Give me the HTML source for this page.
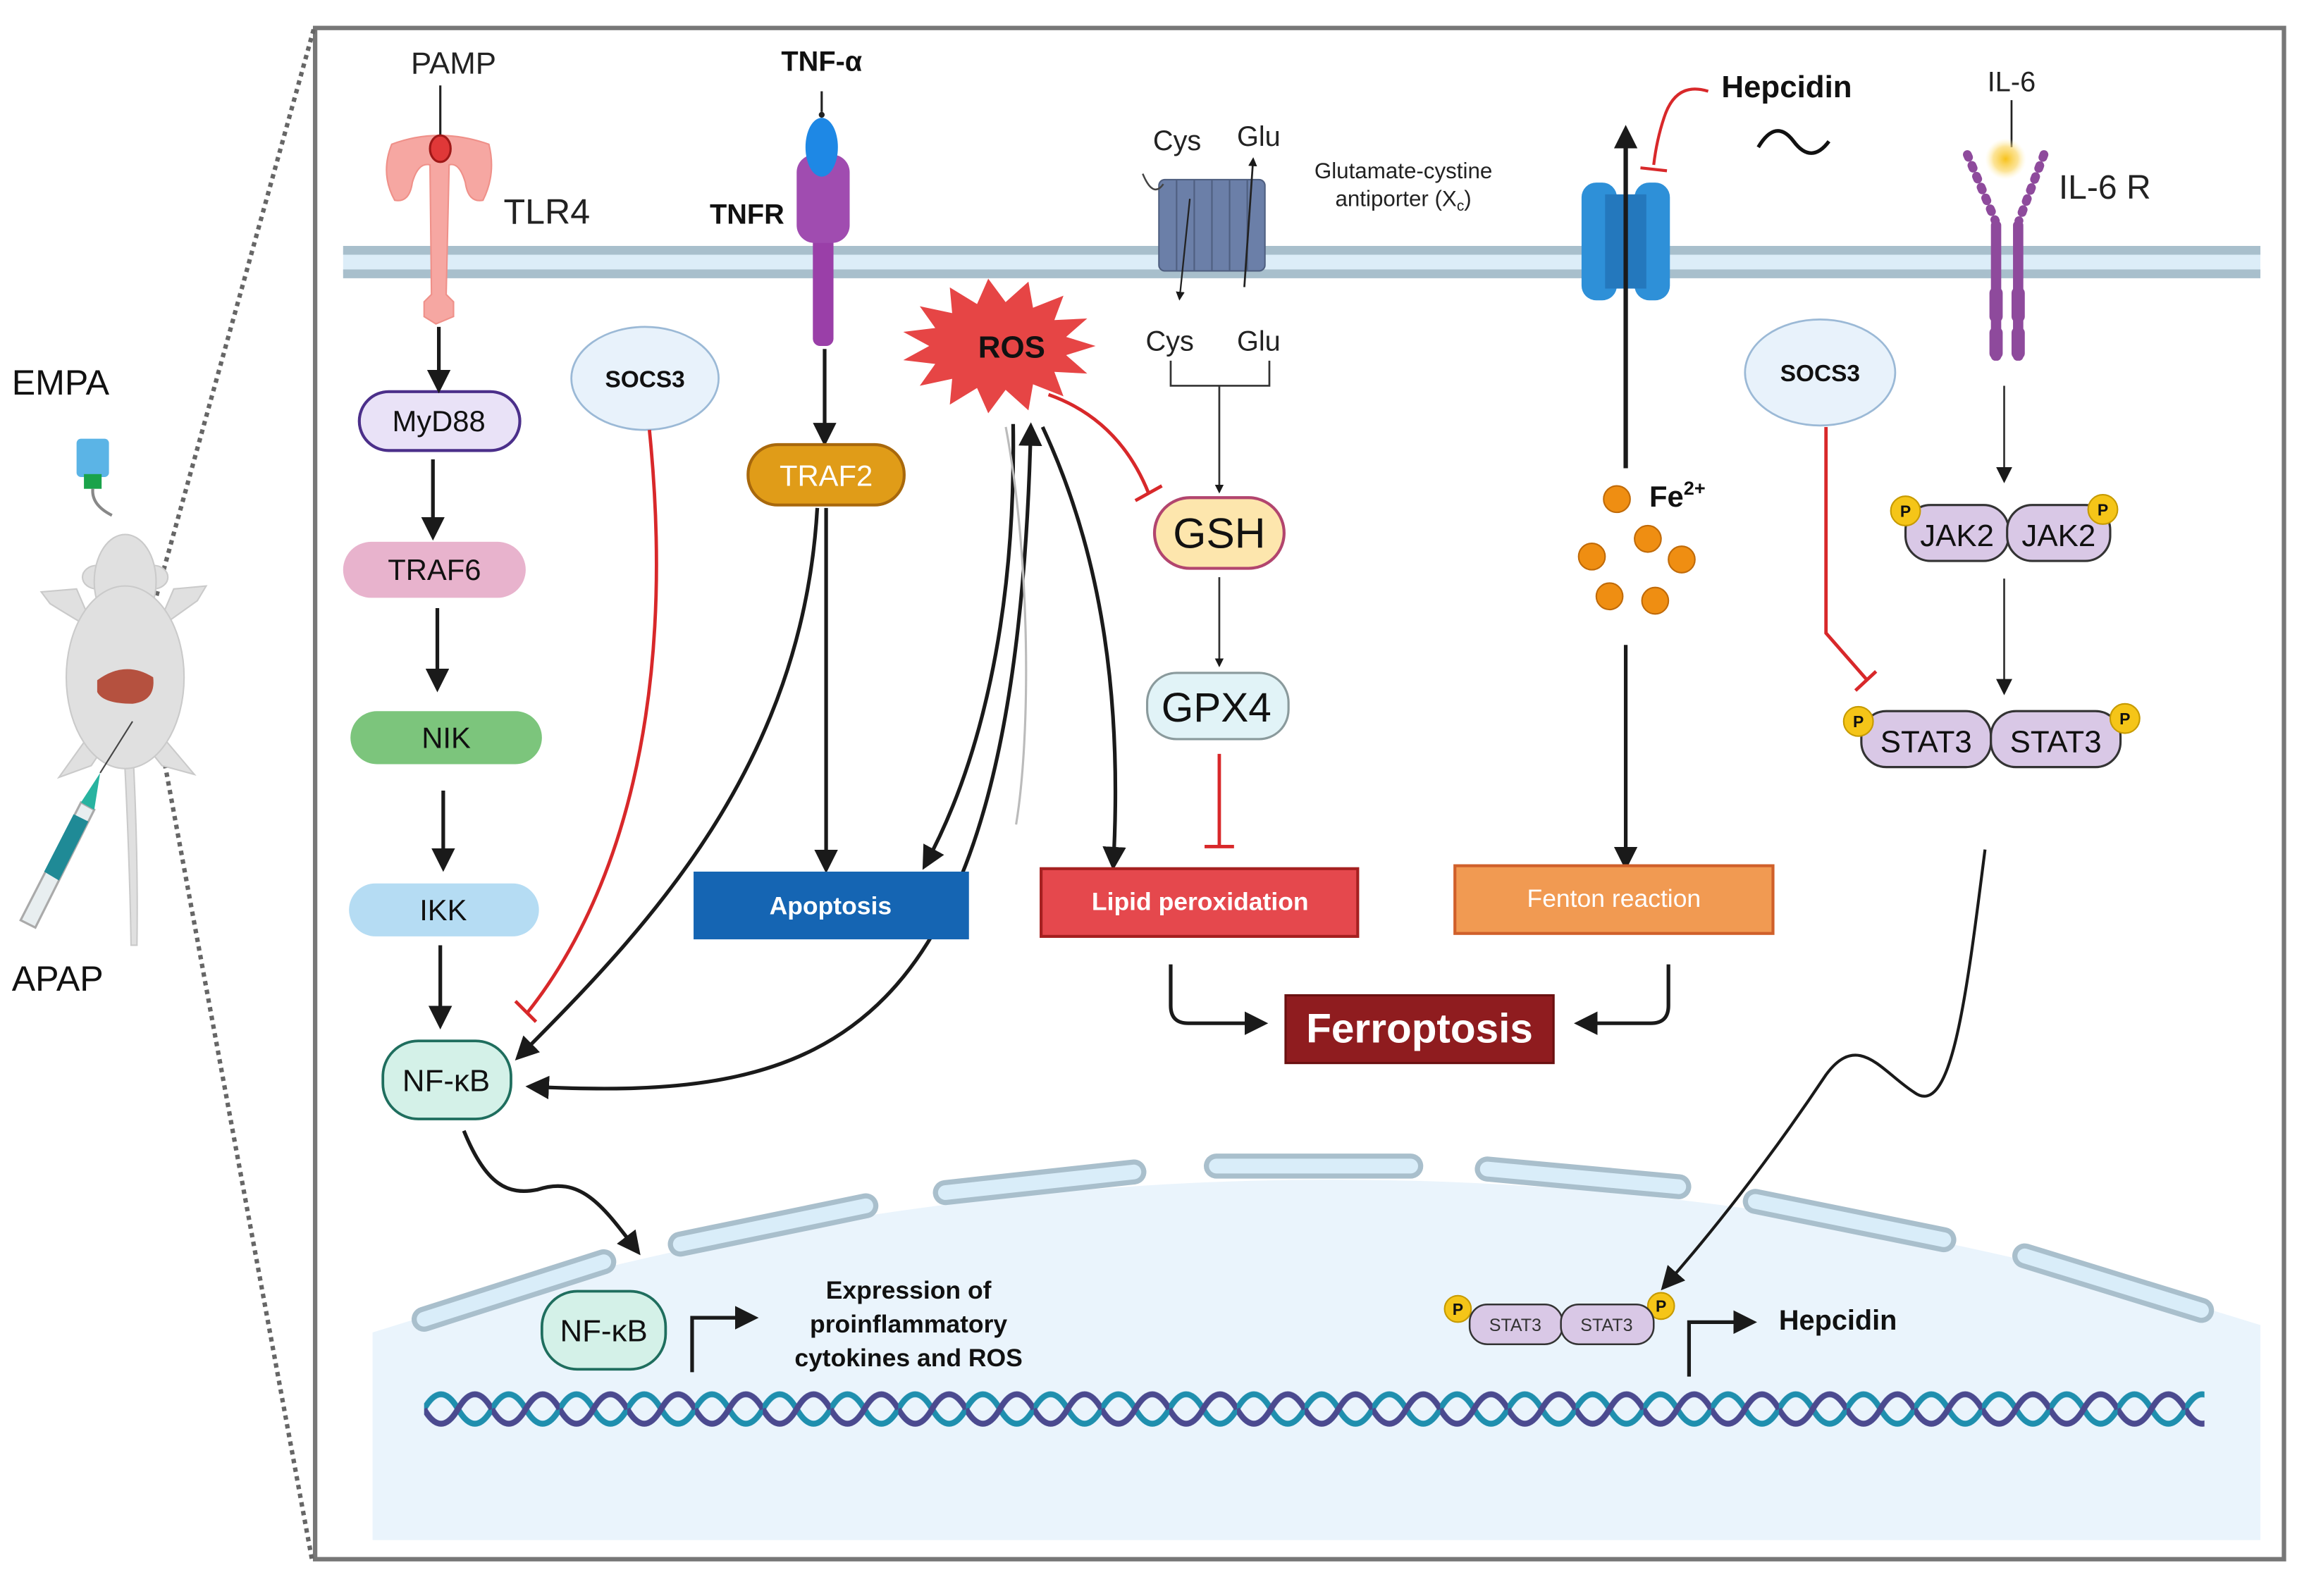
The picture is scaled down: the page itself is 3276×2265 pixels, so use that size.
<!DOCTYPE html>
<html><head><meta charset="utf-8">
<style>
html,body{margin:0;padding:0;background:#fff;}
svg{display:block;}
text{font-family:"Liberation Sans",sans-serif;}
</style></head>
<body>
<svg width="3276" height="2265" viewBox="0 0 1568 1084" preserveAspectRatio="none" xmlns="http://www.w3.org/2000/svg">
<defs>
<marker id="ah" viewBox="0 0 10 10" refX="8" refY="5" markerWidth="6" markerHeight="6" orient="auto-start-reverse" markerUnits="userSpaceOnUse"><path d="M0,0 L10,5 L0,10 z" fill="#1a1a1a"/></marker>
<marker id="ab" viewBox="0 0 10 10" refX="8" refY="5" markerWidth="16" markerHeight="16" orient="auto-start-reverse" markerUnits="userSpaceOnUse"><path d="M0,0 L10,5 L0,10 z" fill="#1a1a1a"/></marker>
<marker id="am" viewBox="0 0 10 10" refX="8" refY="5" markerWidth="11" markerHeight="11" orient="auto-start-reverse" markerUnits="userSpaceOnUse"><path d="M0,0 L10,5 L0,10 z" fill="#1a1a1a"/></marker>
<pattern id="dna" x="288" y="942" width="46" height="30" patternUnits="userSpaceOnUse">
<path d="M0,15 Q11.5,-5 23,15 T46,15" fill="none" stroke="#1f8fae" stroke-width="4"/>
<path d="M0,15 Q11.5,35 23,15 T46,15" fill="none" stroke="#4b4a8f" stroke-width="4"/>
</pattern>
<radialGradient id="glow"><stop offset="0" stop-color="#f7c21a"/><stop offset="0.6" stop-color="#fbd86a" stop-opacity="0.7"/><stop offset="1" stop-color="#fff3c0" stop-opacity="0"/></radialGradient>
</defs>

<!-- frame -->
<rect x="214" y="19" width="1337" height="1040" fill="#fff" stroke="#777" stroke-width="3"/>
<path d="M213,20 L97,438 L212,1060" fill="none" stroke="#666" stroke-width="3" stroke-dasharray="3,3"/>

<!-- mouse -->
<text x="8" y="268" font-size="24" fill="#111">EMPA</text>
<text x="8" y="673" font-size="24" fill="#111">APAP</text>
<rect x="52" y="298" width="22" height="26" rx="3" fill="#5bb4e6"/>
<rect x="57" y="322" width="12" height="10" fill="#1aa34a"/>
<path d="M63,332 Q62,343 76,350" fill="none" stroke="#888" stroke-width="2"/>
<g fill="#e0e0e0" stroke="#cacaca" stroke-width="1">
<path d="M90,505 Q94,580 93,642 L89,642 Q88,580 84,505 Z"/>
<path d="M52,400 L28,402 L34,410 Q50,420 64,428 Z"/>
<path d="M118,400 L140,398 L134,408 Q120,418 106,428 Z"/>
<path d="M60,500 L40,528 L62,520 L72,505 Z"/>
<path d="M110,500 L132,526 L110,520 L98,505 Z"/>
<ellipse cx="66" cy="392" rx="10" ry="8"/>
<ellipse cx="104" cy="392" rx="10" ry="8"/>
<ellipse cx="85" cy="395" rx="21" ry="32"/>
<ellipse cx="85" cy="460" rx="40" ry="62"/>
</g>
<path d="M66,462 Q85,448 104,460 Q106,476 90,478 Q70,478 66,470 Z" fill="#b5513f"/>
<path d="M14,625 L55,545 L64,550 L24,630 Z" fill="#e8eef0" stroke="#aaa" stroke-width="1.5"/>
<path d="M30,592 L50,553 L60,558 L40,598 Z" fill="#1f8a96"/>
<path d="M55,545 L68,525 L64,550 Z" fill="#28b3a0"/>
<line x1="68" y1="525" x2="90" y2="490" stroke="#444" stroke-width="1"/>

<!-- membrane -->
<rect x="233" y="170" width="1302" height="16" fill="#dcedf8"/>
<line x1="233" y1="170" x2="1535" y2="170" stroke="#a8bfcc" stroke-width="6"/>
<line x1="233" y1="186" x2="1535" y2="186" stroke="#a8bfcc" stroke-width="6"/>

<!-- nucleus -->
<path d="M253,1046 L253,905 Q900,700 1535,900 L1535,1046 Z" fill="#eaf4fc"/>
<g stroke-linecap="round" fill="none">
<g stroke="#a9bfcc" stroke-width="17">
<line x1="288" y1="896" x2="410" y2="857"/><line x1="462" y1="845" x2="588" y2="819"/><line x1="642" y1="810" x2="770" y2="796"/><line x1="826" y1="792" x2="958" y2="792"/><line x1="1010" y1="794" x2="1140" y2="806"/><line x1="1192" y1="816" x2="1320" y2="842"/><line x1="1375" y1="853" x2="1495" y2="890"/>
</g>
<g stroke="#d9edf9" stroke-width="10">
<line x1="288" y1="896" x2="410" y2="857"/><line x1="462" y1="845" x2="588" y2="819"/><line x1="642" y1="810" x2="770" y2="796"/><line x1="826" y1="792" x2="958" y2="792"/><line x1="1010" y1="794" x2="1140" y2="806"/><line x1="1192" y1="816" x2="1320" y2="842"/><line x1="1375" y1="853" x2="1495" y2="890"/>
</g></g>
<rect x="288" y="942" width="1209" height="30" fill="url(#dna)"/>

<!-- TLR4 -->
<text x="308" y="50" font-size="21" text-anchor="middle" fill="#222">PAMP</text>
<line x1="299" y1="58" x2="299" y2="92" stroke="#222" stroke-width="1.5"/>
<path d="M266,98 Q298,86 332,98 Q337,118 328,136 Q318,138 316,124 Q312,110 305,112 L303,200 L308,205 L308,215 L296,220 L288,215 L288,205 L293,200 L292,112 Q284,110 280,124 Q278,138 268,136 Q258,118 266,98 Z" fill="#f6a7a2" stroke="#ef9089" stroke-width="1"/>
<ellipse cx="299" cy="101" rx="7" ry="9" fill="#e03838" stroke="#a01818" stroke-width="1.5"/>
<text x="342" y="152" font-size="24" fill="#222">TLR4</text>

<!-- TNFR -->
<text x="558" y="48" font-size="19" font-weight="bold" text-anchor="middle" fill="#111">TNF-α</text>
<line x1="558" y1="62" x2="558" y2="76" stroke="#222" stroke-width="1.5"/>
<circle cx="558" cy="78" r="2" fill="#222"/>
<rect x="552" y="120" width="14" height="115" rx="5" fill="#9a3fa8"/>
<rect x="541" y="105" width="36" height="60" rx="12" fill="#a04cb0"/>
<ellipse cx="558" cy="100" rx="11" ry="20" fill="#1e88e5"/>
<text x="482" y="152" font-size="19" font-weight="bold" fill="#111">TNFR</text>

<!-- Xc transporter -->
<rect x="787" y="122" width="72" height="62" rx="4" fill="#6b7fa8" stroke="#4f5f80" stroke-width="1"/>
<g stroke="#4f5f80" stroke-width="1"><line x1="799" y1="122" x2="799" y2="184"/><line x1="811" y1="122" x2="811" y2="184"/><line x1="823" y1="122" x2="823" y2="184"/><line x1="835" y1="122" x2="835" y2="184"/><line x1="847" y1="122" x2="847" y2="184"/></g>
<path d="M776,118 Q783,135 790,125" fill="none" stroke="#444" stroke-width="1.2"/>
<text x="783" y="102" font-size="19" fill="#222">Cys</text>
<text x="840" y="99" font-size="19" fill="#222">Glu</text>
<line x1="845" y1="195" x2="851" y2="108" stroke="#222" stroke-width="1.3" marker-end="url(#ah)"/>
<line x1="808" y1="135" x2="801" y2="203" stroke="#222" stroke-width="1.1" marker-end="url(#ah)"/>
<text x="953" y="121" font-size="15" text-anchor="middle" fill="#222">Glutamate-cystine</text>
<text x="953" y="140" font-size="15" text-anchor="middle" fill="#222">antiporter (X<tspan font-size="10" dy="3">c</tspan><tspan dy="-3">)</tspan></text>
<text x="778" y="238" font-size="19" fill="#222">Cys</text>
<text x="840" y="238" font-size="19" fill="#222">Glu</text>
<path d="M795,245 L795,262 L862,262 L862,245" fill="none" stroke="#333" stroke-width="1.3"/>
<line x1="828" y1="262" x2="828" y2="334" stroke="#333" stroke-width="1.3" marker-end="url(#ah)"/>

<!-- ferroportin -->
<rect x="1074" y="124" width="24" height="80" rx="10" fill="#2e90d8"/>
<rect x="1110" y="124" width="24" height="80" rx="10" fill="#2e90d8"/>
<rect x="1090" y="132" width="28" height="64" fill="#2478bd"/>
<line x1="1104" y1="318" x2="1104" y2="88" stroke="#1a1a1a" stroke-width="3" marker-end="url(#ab)"/>
<text x="1169" y="66" font-size="21" font-weight="bold" fill="#111">Hepcidin</text>
<path d="M1160,62 Q1138,55 1130,80 Q1125,95 1123,112" fill="none" stroke="#d8282a" stroke-width="2"/>
<line x1="1114" y1="114" x2="1132" y2="116" stroke="#d8282a" stroke-width="2"/>
<path d="M1194,100 Q1206,80 1218,96 Q1230,112 1242,96" fill="none" stroke="#111" stroke-width="2.5"/>

<!-- IL-6R -->
<text x="1366" y="62" font-size="19" text-anchor="middle" fill="#222">IL-6</text>
<line x1="1366" y1="68" x2="1366" y2="100" stroke="#222" stroke-width="1.3"/>
<circle cx="1362" cy="108" r="14" fill="url(#glow)"/>
<g fill="#8e4a9c">
<path d="M1336,105 L1355,150" stroke="#8e4a9c" stroke-width="6" stroke-linecap="round" stroke-dasharray="2,6"/>
<path d="M1388,105 L1371,150" stroke="#8e4a9c" stroke-width="6" stroke-linecap="round" stroke-dasharray="2,6"/>
<rect x="1352" y="150" width="7" height="95" rx="3"/>
<rect x="1367" y="150" width="7" height="95" rx="3"/>
<rect x="1351" y="195" width="9" height="24" rx="4"/><rect x="1366" y="195" width="9" height="24" rx="4"/>
<rect x="1351" y="222" width="9" height="22" rx="4"/><rect x="1366" y="222" width="9" height="22" rx="4"/>
</g>
<text x="1398" y="135" font-size="23" fill="#222">IL-6 R</text>

<!-- SOCS3 -->
<ellipse cx="438" cy="257" rx="50" ry="35" fill="#e8f2fb" stroke="#9bb9d6" stroke-width="1.3"/>
<text x="438" y="263" font-size="16" font-weight="bold" text-anchor="middle" fill="#111">SOCS3</text>
<ellipse cx="1236" cy="253" rx="51" ry="36" fill="#e8f2fb" stroke="#9bb9d6" stroke-width="1.3"/>
<text x="1236" y="259" font-size="16" font-weight="bold" text-anchor="middle" fill="#111">SOCS3</text>

<!-- left chain nodes -->
<rect x="244" y="266" width="109" height="40" rx="20" fill="#e9e2f7" stroke="#4b2f8a" stroke-width="2"/>
<text x="298" y="293" font-size="20" text-anchor="middle" fill="#111">MyD88</text>
<rect x="233" y="368" width="124" height="38" rx="19" fill="#e8b3cd"/>
<text x="295" y="394" font-size="20" text-anchor="middle" fill="#111">TRAF6</text>
<rect x="238" y="483" width="130" height="36" rx="18" fill="#7cc57c"/>
<text x="303" y="508" font-size="20" text-anchor="middle" fill="#111">NIK</text>
<rect x="237" y="600" width="129" height="36" rx="18" fill="#b5dcf3"/>
<text x="301" y="625" font-size="20" text-anchor="middle" fill="#111">IKK</text>
<rect x="260" y="707" width="87" height="53" rx="24" fill="#d4f1e8" stroke="#1f6e5e" stroke-width="1.8"/>
<text x="303" y="741" font-size="21" text-anchor="middle" fill="#111">NF-κB</text>

<g stroke="#1a1a1a" stroke-width="2.5" fill="none">
<line x1="298" y1="222" x2="298" y2="264" marker-end="url(#ab)"/>
<line x1="294" y1="312" x2="294" y2="364" marker-end="url(#ab)"/>
<line x1="297" y1="413" x2="297" y2="467" marker-end="url(#ab)"/>
<line x1="301" y1="537" x2="301" y2="589" marker-end="url(#ab)"/>
<line x1="299" y1="642" x2="299" y2="696" marker-end="url(#ab)"/>
<line x1="560" y1="237" x2="560" y2="300" marker-end="url(#ab)"/>
<line x1="561" y1="345" x2="561" y2="590" marker-end="url(#ab)"/>
<path d="M555,345 C545,520 440,630 352,718" marker-end="url(#ab)"/>
<path d="M688,288 C690,420 665,520 628,588" marker-end="url(#ab)"/>
<path d="M360,738 C560,748 690,715 700,290" marker-start="url(#ab)" marker-end="url(#ab)"/>
<path d="M708,290 C750,380 762,480 756,588" marker-end="url(#ab)"/>
<path d="M795,655 L795,683 Q795,695 807,695 L858,695" marker-end="url(#ab)"/>
<path d="M1133,655 L1133,683 Q1133,695 1121,695 L1072,695" marker-end="url(#ab)"/>
<line x1="1104" y1="438" x2="1104" y2="588" marker-end="url(#ab)"/>
<path d="M470,932 L470,895 L512,895" marker-end="url(#ab)"/>
<path d="M1147,935 L1147,898 L1190,898" marker-end="url(#ab)"/>
<path d="M315,768 C330,805 345,812 365,808 C395,798 410,820 433,850" marker-end="url(#ab)"/>
<path d="M1348,577 C1335,680 1325,760 1300,742 C1278,728 1262,700 1240,730 C1200,790 1160,840 1130,874" stroke-width="2" marker-end="url(#ab)"/>
</g>
<path d="M683,290 C700,380 700,500 690,560" fill="none" stroke="#bbb" stroke-width="1.5"/>
<g stroke="#333" stroke-width="1.3">
<line x1="828" y1="392" x2="828" y2="452" marker-end="url(#ah)"/>
<line x1="1361" y1="262" x2="1361" y2="326" marker-end="url(#am)"/>
<line x1="1361" y1="393" x2="1361" y2="470" marker-end="url(#am)"/>
</g>

<!-- red inhibitions -->
<g stroke="#d8282a" stroke-width="2.3" fill="none">
<path d="M441,292 C460,480 420,610 358,688"/>
<line x1="350" y1="680" x2="364" y2="694"/>
<path d="M712,268 Q760,285 780,335"/>
<line x1="771" y1="340" x2="789" y2="330"/>
<line x1="828" y1="512" x2="828" y2="574"/>
<line x1="818" y1="575" x2="838" y2="575"/>
<path d="M1240,290 L1240,430 L1268,462"/>
<line x1="1260" y1="469" x2="1274" y2="456"/>
</g>

<!-- ROS -->
<polygon id="ros" fill="#e64545"/>
<text x="687" y="243" font-size="21" font-weight="bold" text-anchor="middle" fill="#111">ROS</text>

<!-- TRAF2 -->
<rect x="508" y="302" width="106" height="41" rx="20" fill="#e09c18" stroke="#a8680c" stroke-width="2"/>
<text x="561" y="330" font-size="20" text-anchor="middle" fill="#fff">TRAF2</text>

<rect x="471" y="592" width="187" height="46" fill="#1565b3"/>
<text x="564" y="621" font-size="17" font-weight="bold" text-anchor="middle" fill="#fff">Apoptosis</text>

<rect x="784" y="338" width="88" height="48" rx="24" fill="#fde6ad" stroke="#b2456e" stroke-width="2"/>
<text x="828" y="372" font-size="29" text-anchor="middle" fill="#111">GSH</text>
<rect x="779" y="457" width="96" height="45" rx="20" fill="#e1f3f7" stroke="#8a9a9c" stroke-width="1.5"/>
<text x="826" y="490" font-size="28" text-anchor="middle" fill="#111">GPX4</text>

<rect x="707" y="590" width="215" height="46" fill="#e5484d" stroke="#a52020" stroke-width="2"/>
<text x="815" y="618" font-size="17" font-weight="bold" text-anchor="middle" fill="#fff">Lipid peroxidation</text>
<rect x="988" y="588" width="216" height="46" fill="#f19a52" stroke="#d0602a" stroke-width="2"/>
<text x="1096" y="616" font-size="17" text-anchor="middle" fill="#fff">Fenton reaction</text>
<rect x="873" y="676" width="182" height="46" fill="#8f1c1f" stroke="#6a1010" stroke-width="1.5"/>
<text x="964" y="708" font-size="28" font-weight="bold" text-anchor="middle" fill="#fff">Ferroptosis</text>

<!-- Fe -->
<g fill="#ef8e12" stroke="#c06a08" stroke-width="1">
<circle cx="1098" cy="339" r="9"/><circle cx="1119" cy="366" r="9"/><circle cx="1081" cy="378" r="9"/><circle cx="1142" cy="380" r="9"/><circle cx="1093" cy="405" r="9"/><circle cx="1124" cy="408" r="9"/>
</g>
<text x="1120" y="344" font-size="20" font-weight="bold" fill="#111">Fe<tspan font-size="13" dy="-8">2+</tspan></text>

<!-- JAK2 / STAT3 -->
<rect x="1294" y="343" width="70" height="38" rx="17" fill="#d9c8e6" stroke="#333" stroke-width="1.5"/>
<rect x="1363" y="343" width="70" height="38" rx="17" fill="#d9c8e6" stroke="#333" stroke-width="1.5"/>
<text x="1329" y="371" font-size="21" text-anchor="middle" fill="#111">JAK2</text>
<text x="1398" y="371" font-size="21" text-anchor="middle" fill="#111">JAK2</text>
<rect x="1264" y="483" width="88" height="38" rx="17" fill="#d9c8e6" stroke="#333" stroke-width="1.5"/>
<rect x="1352" y="483" width="88" height="38" rx="17" fill="#d9c8e6" stroke="#333" stroke-width="1.5"/>
<text x="1308" y="511" font-size="21" text-anchor="middle" fill="#111">STAT3</text>
<text x="1396" y="511" font-size="21" text-anchor="middle" fill="#111">STAT3</text>
<g fill="#f5c518" stroke="#c69a00" stroke-width="1">
<circle cx="1294" cy="347" r="10"/><circle cx="1428" cy="346" r="10"/><circle cx="1262" cy="490" r="10"/><circle cx="1443" cy="488" r="10"/>
<circle cx="990" cy="889" r="9"/><circle cx="1128" cy="887" r="9"/>
</g>
<g font-size="11" font-weight="bold" text-anchor="middle" fill="#111">
<text x="1294" y="351">P</text><text x="1428" y="350">P</text><text x="1262" y="494">P</text><text x="1443" y="492">P</text>
<text x="990" y="893">P</text><text x="1128" y="891">P</text>
</g>

<!-- nucleus items -->
<rect x="368" y="877" width="84" height="53" rx="24" fill="#d4f1e8" stroke="#1f6e5e" stroke-width="1.8"/>
<text x="410" y="911" font-size="21" text-anchor="middle" fill="#111">NF-κB</text>
<text x="617" y="882" font-size="17" font-weight="bold" text-anchor="middle" fill="#111">Expression of</text>
<text x="617" y="905" font-size="17" font-weight="bold" text-anchor="middle" fill="#111">proinflammatory</text>
<text x="617" y="928" font-size="17" font-weight="bold" text-anchor="middle" fill="#111">cytokines and ROS</text>
<rect x="998" y="886" width="63" height="27" rx="12" fill="#d9c8e6" stroke="#333" stroke-width="1.2"/>
<rect x="1060" y="886" width="63" height="27" rx="12" fill="#d9c8e6" stroke="#333" stroke-width="1.2"/>
<text x="1029" y="904" font-size="12" text-anchor="middle" fill="#333">STAT3</text>
<text x="1091" y="904" font-size="12" text-anchor="middle" fill="#333">STAT3</text>
<text x="1208" y="903" font-size="19" font-weight="bold" fill="#111">Hepcidin</text>
</svg>
<script>
(function(){var cx=678,cy=235,pts=[],n=30;for(var i=0;i<n;i++){var a=i/n*2*Math.PI;var o=i%2==0;var rx=o?66:47,ry=o?46:30;pts.push((cx+rx*Math.cos(a)).toFixed(1)+","+(cy+ry*Math.sin(a)).toFixed(1));}document.getElementById("ros").setAttribute("points",pts.join(" "));})();
</script>
</body></html>
